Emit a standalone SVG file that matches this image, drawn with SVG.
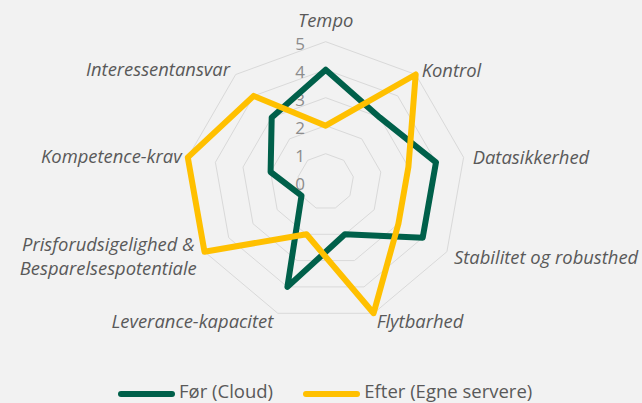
<svg xmlns="http://www.w3.org/2000/svg" width="642" height="403" viewBox="0 0 642 403">
<style>
.grid{fill:none;stroke:#D9D9D9;stroke-width:1}
.axl{font-family:"Open Sans",sans-serif;font-style:italic;font-size:18.4px;fill:#595959}
.tick{font-family:"Open Sans",sans-serif;font-size:17px;fill:#8C8C8C;text-anchor:end}
.ser{fill:none;stroke-width:6;stroke-linejoin:round;stroke-linecap:round}
.leg{font-family:"Open Sans",sans-serif;font-size:18.5px;fill:#595959}
</style>
<rect x="0" y="0" width="642" height="403" fill="#F2F2F2"/>
<g id="grid">
<polygon class="grid" points="325.7,41.7 415.7,74.5 463.6,157.4 446.9,251.7 373.6,313.3 277.8,313.3 204.5,251.7 187.8,157.4 235.7,74.5"/>
<polygon class="grid" points="325.7,69.7 397.7,95.9 436.0,162.3 422.7,237.7 364.0,286.9 287.4,286.9 228.7,237.7 215.4,162.3 253.7,95.9"/>
<polygon class="grid" points="325.7,97.7 379.7,117.4 408.4,167.1 398.4,223.7 354.4,260.6 297.0,260.6 253.0,223.7 243.0,167.1 271.7,117.4"/>
<polygon class="grid" points="325.7,125.7 361.7,138.8 380.8,172.0 374.2,209.7 344.9,234.3 306.5,234.3 277.2,209.7 270.6,172.0 289.7,138.8"/>
<polygon class="grid" points="325.7,153.7 343.7,160.3 353.3,176.8 349.9,195.7 335.3,208.0 316.1,208.0 301.5,195.7 298.1,176.8 307.7,160.3"/>
</g>
<g id="ticks">
<text class="tick" x="305" y="49.5">5</text>
<text class="tick" x="305" y="77.5">4</text>
<text class="tick" x="305" y="105.5">3</text>
<text class="tick" x="305" y="133.5">2</text>
<text class="tick" x="305" y="161.5">1</text>
<text class="tick" x="305" y="189.5">0</text>
</g>
<g id="labels">
<g id="ax-tempo"><text class="axl" x="325.7" y="27" text-anchor="middle">Tempo</text></g>
<g id="ax-kontrol"><text class="axl" x="421.7" y="76.7">Kontrol</text></g>
<g id="ax-datasikkerhed"><text class="axl" x="472.7" y="164">Datasikkerhed</text></g>
<g id="ax-stabilitet"><text class="axl" x="454" y="264">Stabilitet og robusthed</text></g>
<g id="ax-flytbarhed"><text class="axl" x="376.7" y="327.7">Flytbarhed</text></g>
<g id="ax-leverance"><text class="axl" x="273.3" y="328.3" text-anchor="end">Leverance-kapacitet</text></g>
<g id="ax-pris"><text class="axl" x="108.3" y="251" text-anchor="middle">Prisforudsigelighed &amp;</text><text class="axl" x="108.3" y="275" text-anchor="middle">Besparelsespotentiale</text></g>
<g id="ax-kompetence"><text class="axl" x="181.7" y="163.3" text-anchor="end">Kompetence-krav</text></g>
<g id="ax-interessent"><text class="axl" x="230" y="75.7" text-anchor="end">Interessentansvar</text></g>
</g>
<g id="connectors">
<polygon id="series-foer" class="ser" stroke="#00604A" points="325.7,69.7 379.7,117.4 436.0,162.3 422.7,237.7 344.9,234.3 287.4,286.9 301.5,195.7 270.6,172.0 271.7,117.4"/>
<polygon id="series-efter" class="ser" stroke="#FFC000" points="325.7,125.7 415.7,74.5 408.4,167.1 398.4,223.7 373.6,313.3 306.5,234.3 204.5,251.7 187.8,157.4 253.7,95.9"/>
</g>
<g id="legend">
<line x1="121" y1="394" x2="172" y2="394" stroke="#00604A" stroke-width="6" stroke-linecap="round"/>
<text class="leg" x="179" y="398">Før (Cloud)</text>
<line x1="306" y1="394" x2="357" y2="394" stroke="#FFC000" stroke-width="6" stroke-linecap="round"/>
<text class="leg" x="364.3" y="398">Efter (Egne servere)</text>
</g>
</svg>
